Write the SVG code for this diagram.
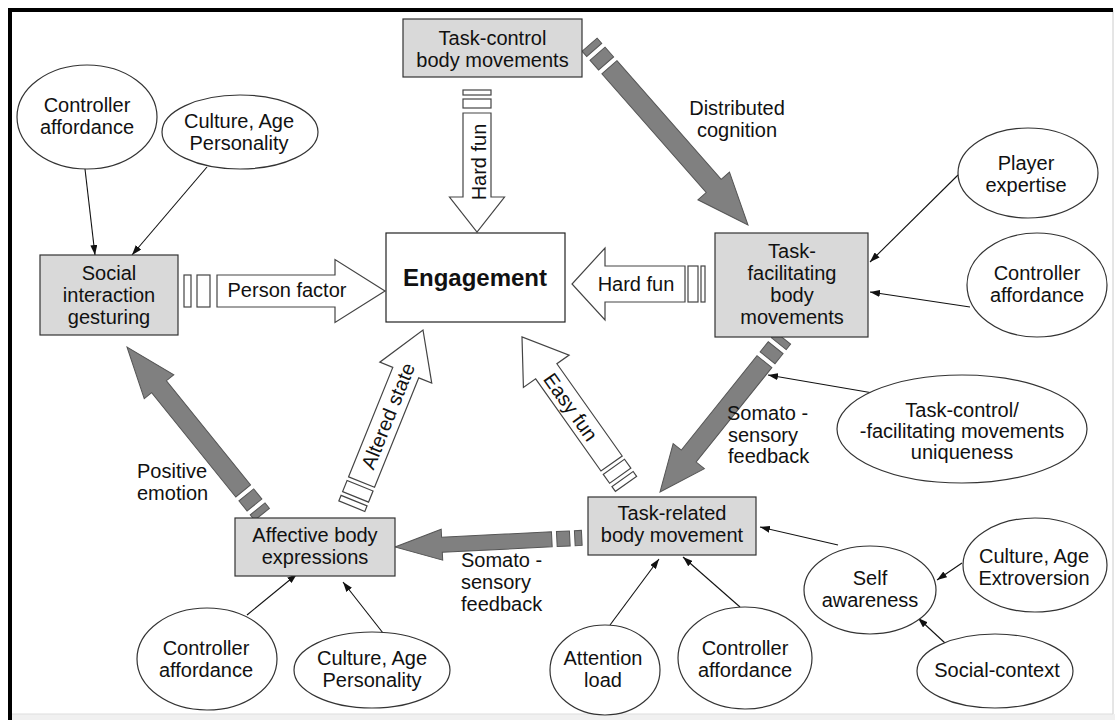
<svg xmlns="http://www.w3.org/2000/svg" width="1115" height="720" viewBox="0 0 1115 720">
<defs>
<style>
.t{font-family:"Liberation Sans",Arial,sans-serif;font-size:20px;fill:#111;text-anchor:middle}
.tl{font-family:"Liberation Sans",Arial,sans-serif;font-size:20px;fill:#111;text-anchor:start}
.box{fill:#d9d9d9;stroke:#333;stroke-width:1.2}
.ell{fill:#fff;stroke:#333;stroke-width:1.2}
.hol{fill:#fff;stroke:#444;stroke-width:1.2}
.drk{fill:#808080;stroke:#555;stroke-width:1}
.con{stroke:#111;stroke-width:1.1;fill:none;marker-end:url(#ah)}
</style>
<marker id="ah" viewBox="0 0 10 10" refX="10" refY="5" markerWidth="10" markerHeight="7" markerUnits="userSpaceOnUse" orient="auto" preserveAspectRatio="none">
<path d="M0,0 L10,5 L0,10 z" fill="#111"/>
</marker>
</defs>
<rect width="1115" height="720" fill="#fff"/>
<rect x="10" y="714" width="1105" height="6" fill="#f0f0f0"/>
<line x1="1113" y1="10" x2="1113" y2="714" stroke="#ccc" stroke-width="1"/>
<line x1="10" y1="714" x2="1113" y2="714" stroke="#ddd" stroke-width="1"/>
<line x1="8" y1="10" x2="1113" y2="10" stroke="#000" stroke-width="4"/>
<line x1="10" y1="8" x2="10" y2="720" stroke="#000" stroke-width="4"/>

<g id="connectors">
<line class="con" x1="85" y1="169" x2="95" y2="255"/>
<line class="con" x1="207" y1="167" x2="132" y2="255"/>
<line class="con" x1="958" y1="175" x2="870" y2="262"/>
<line class="con" x1="970" y1="307" x2="870" y2="292"/>
<line class="con" x1="873" y1="393" x2="768" y2="375"/>
<line class="con" x1="838" y1="545" x2="760" y2="527"/>
<line class="con" x1="962" y1="563" x2="937" y2="580"/>
<line class="con" x1="945" y1="643" x2="918" y2="618"/>
<line class="con" x1="740" y1="607" x2="683" y2="557"/>
<line class="con" x1="610" y1="625" x2="659" y2="559"/>
<line class="con" x1="247" y1="615" x2="297" y2="574"/>
<line class="con" x1="383" y1="633" x2="343" y2="582"/>

<g id="arrow-hardfun-down" transform="translate(477,232) rotate(90)">
<polygon class="hol" points="-119,-14 -35,-14 -35,-27.5 0,0 -35,27.5 -35,14 -119,14"/>
<rect class="hol" x="-142" y="-14" width="5" height="28"/>
<rect class="hol" x="-133" y="-14" width="9" height="28"/>
</g>
<text class="t" transform="translate(486,162) rotate(-90)">Hard fun</text>

<g id="arrow-person" transform="translate(385,291)">
<polygon class="hol" points="-168,-16 -50,-16 -50,-31.5 0,0 -50,31.5 -50,16 -168,16"/>
<rect class="hol" x="-201" y="-16" width="7" height="32"/>
<rect class="hol" x="-188" y="-16" width="13" height="32"/>
</g>
<text class="t" x="287" y="297">Person factor</text>

<g id="arrow-hardfun-left" transform="translate(572,284) rotate(180)">
<polygon class="hol" points="-113,-18 -33,-18 -33,-36 0,0 -33,36 -33,18 -113,18"/>
<rect class="hol" x="-133" y="-18" width="4" height="36"/>
<rect class="hol" x="-126" y="-18" width="10" height="36"/>
</g>
<text class="t" x="636" y="291">Hard fun</text>

<g id="arrow-easyfun" transform="translate(522,337) rotate(-125.3)">
<polygon class="hol" points="-155,-13 -42,-13 -42,-28 0,0 -42,28 -42,13 -155,13"/>
<rect class="hol" x="-180" y="-13" width="6" height="26"/>
<rect class="hol" x="-170" y="-13" width="11" height="26"/>
</g>
<text class="t" transform="translate(565,411) rotate(54.7)">Easy fun</text>

<g id="arrow-altered" transform="translate(423,330) rotate(-68)">
<polygon class="hol" points="-164,-14 -46,-14 -46,-28 0,0 -46,28 -46,14 -164,14"/>
<rect class="hol" x="-190" y="-14" width="6" height="28"/>
<rect class="hol" x="-180" y="-14" width="12" height="28"/>
</g>
<text class="t" transform="translate(394.5,418.6) rotate(-68)">Altered state</text>

<g id="arrow-distributed" transform="translate(748,225) rotate(48.7)">
<polygon class="drk" points="-210,-10 -52,-10 -52,-21 0,0 -52,21 -52,10 -210,10"/>
<rect class="drk" x="-240" y="-10" width="7" height="20"/>
<rect class="drk" x="-228" y="-10" width="13" height="20"/>
</g>
<text class="t" x="737" y="115">Distributed</text>
<text class="t" x="737" y="137">cognition</text>

<g id="arrow-somato-diag" transform="translate(660,492) rotate(128.7)">
<polygon class="drk" points="-167,-9.5 -46,-9.5 -46,-20 0,0 -46,20 -46,9.5 -167,9.5"/>
<rect class="drk" x="-197" y="-9.5" width="7" height="19"/>
<rect class="drk" x="-185" y="-9.5" width="13" height="19"/>
</g>
<text class="tl" x="727" y="420">Somato -</text>
<text class="tl" x="728" y="442">sensory</text>
<text class="tl" x="728" y="463">feedback</text>

<g id="arrow-somato-horiz" transform="translate(395,547) rotate(177.2)">
<polygon class="drk" points="-157,-7.5 -47,-7.5 -47,-15.5 0,0 -47,15.5 -47,7.5 -157,7.5"/>
<rect class="drk" x="-187" y="-7.5" width="7" height="15"/>
<rect class="drk" x="-175" y="-7.5" width="13" height="15"/>
</g>
<text class="tl" x="461" y="567">Somato -</text>
<text class="tl" x="461" y="589">sensory</text>
<text class="tl" x="461" y="611">feedback</text>

<g id="arrow-positive" transform="translate(127,347) rotate(-128.9)">
<polygon class="drk" points="-185,-9.5 -51,-9.5 -51,-19 0,0 -51,19 -51,9.5 -185,9.5"/>
<rect class="drk" x="-215" y="-9.5" width="7" height="19"/>
<rect class="drk" x="-203" y="-9.5" width="13" height="19"/>
</g>
<text class="tl" x="137" y="478">Positive</text>
<text class="tl" x="137" y="500">emotion</text>
</g>

<g id="engagement">
<rect x="386" y="233" width="179" height="89" fill="#fff" stroke="#222" stroke-width="1.2"/>
<text class="t" x="475" y="286" style="font-size:24px;font-weight:bold">Engagement</text>
</g>

<g id="task-control">
<rect class="box" x="403" y="19" width="179" height="58"/>
<text class="t" x="492.5" y="45">Task-control</text>
<text class="t" x="492.5" y="67">body movements</text>
</g>

<g id="social-interaction">
<rect class="box" x="40" y="255" width="138" height="80"/>
<text class="t" x="109" y="280">Social</text>
<text class="t" x="109" y="302">interaction</text>
<text class="t" x="109" y="324">gesturing</text>
</g>

<g id="task-facilitating">
<rect class="box" x="715" y="233" width="153" height="104"/>
<text class="t" x="792" y="258">Task-</text>
<text class="t" x="792" y="280">facilitating</text>
<text class="t" x="792" y="302">body</text>
<text class="t" x="792" y="324">movements</text>
</g>

<g id="affective">
<rect class="box" x="235" y="518" width="160" height="58"/>
<text class="t" x="315" y="542">Affective body</text>
<text class="t" x="315" y="564">expressions</text>
</g>

<g id="task-related">
<rect class="box" x="588" y="497" width="168" height="58"/>
<text class="t" x="672" y="520">Task-related</text>
<text class="t" x="672" y="542">body movement</text>
</g>

<g id="controller-tl">
<ellipse class="ell" cx="87" cy="117" rx="70" ry="52"/>
<text class="t" x="87" y="112">Controller</text>
<text class="t" x="87" y="134">affordance</text>
</g>

<g id="culture-tl">
<ellipse class="ell" cx="240" cy="132" rx="78" ry="37"/>
<text class="t" x="239" y="128">Culture, Age</text>
<text class="t" x="239" y="150">Personality</text>
</g>

<g id="player-expertise">
<ellipse class="ell" cx="1028" cy="173" rx="70" ry="45"/>
<text class="t" x="1026" y="170">Player</text>
<text class="t" x="1026" y="192">expertise</text>
</g>

<g id="controller-r">
<ellipse class="ell" cx="1037" cy="285" rx="70" ry="52"/>
<text class="t" x="1037" y="280">Controller</text>
<text class="t" x="1037" y="302">affordance</text>
</g>

<g id="uniqueness">
<ellipse class="ell" cx="962" cy="429" rx="125" ry="54"/>
<text class="t" x="962" y="417">Task-control/</text>
<text class="t" x="962" y="438">-facilitating movements</text>
<text class="t" x="962" y="459">uniqueness</text>
</g>

<g id="self-awareness">
<ellipse class="ell" cx="870" cy="590" rx="66" ry="44"/>
<text class="t" x="870" y="585">Self</text>
<text class="t" x="870" y="607">awareness</text>
</g>

<g id="culture-extroversion">
<ellipse class="ell" cx="1035" cy="565" rx="72" ry="47"/>
<text class="t" x="1034" y="563">Culture, Age</text>
<text class="t" x="1034" y="585">Extroversion</text>
</g>

<g id="social-context">
<ellipse class="ell" cx="995" cy="671" rx="78" ry="37"/>
<text class="t" x="997" y="677">Social-context</text>
</g>

<g id="controller-br">
<ellipse class="ell" cx="745" cy="658" rx="67" ry="51"/>
<text class="t" x="745" y="655">Controller</text>
<text class="t" x="745" y="677">affordance</text>
</g>

<g id="attention-load">
<ellipse class="ell" cx="605" cy="670" rx="55" ry="45"/>
<text class="t" x="603" y="665">Attention</text>
<text class="t" x="603" y="687">load</text>
</g>

<g id="controller-bl">
<ellipse class="ell" cx="207" cy="659" rx="70" ry="51"/>
<text class="t" x="206" y="655">Controller</text>
<text class="t" x="206" y="677">affordance</text>
</g>

<g id="culture-bl">
<ellipse class="ell" cx="372" cy="670" rx="78" ry="38"/>
<text class="t" x="372" y="665">Culture, Age</text>
<text class="t" x="372" y="687">Personality</text>
</g>
</svg>
